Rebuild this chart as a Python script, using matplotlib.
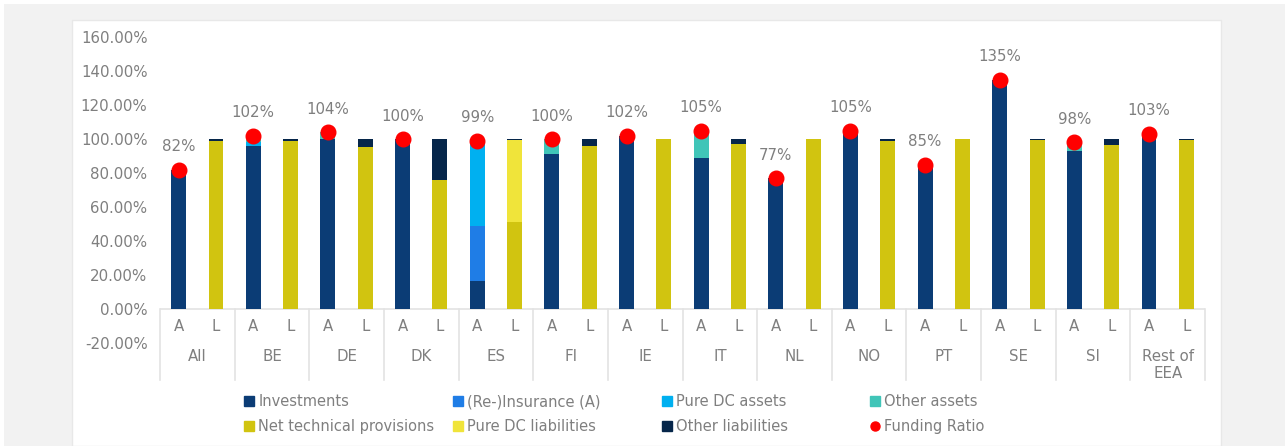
import matplotlib.pyplot as plt
from matplotlib.patches import Rectangle
from matplotlib.lines import Line2D
import numpy as np

countries = ['All', 'BE', 'DE', 'DK', 'ES', 'FI', 'IE', 'IT', 'NL', 'NO', 'PT', 'SE', 'SI', 'Rest of\nEEA']

# assets (A) in % of liabilities
investments = [82, 96, 100, 100, 16.5, 91, 102, 89, 77, 104.5, 85, 135, 93, 101.5]
reinsurance = [0, 0, 0, 0, 32.5, 0, 0, 0, 0, 0, 0, 0, 0, 0]
pure_dc_assets = [0, 2.5, 0, 0, 50, 0, 0, 0, 0, 0, 0, 0, 0, 0]
other_assets = [0, 3.5, 4, 0, 0, 9, 0, 16, 0, 0.5, 0, 0, 5, 1.5]

# liabilities (L)
net_tp = [99, 99, 95.5, 76, 51, 96, 100, 97, 100, 99, 100, 99.5, 96.5, 99.5]
pure_dc_liab = [0, 0, 0, 0, 48.5, 0, 0, 0, 0, 0, 0, 0, 0, 0]
other_liab = [1, 1, 4.5, 24, 0.5, 4, 0, 3, 0, 1, 0, 0.5, 3.5, 0.5]

funding_ratio = [82, 102, 104, 100, 99, 100, 102, 105, 77, 105, 85, 135, 98, 103]

c_inv = '#0b3c75'
c_re = '#1f7de6'
c_dca = '#00b0f0'
c_oa = '#40c5b8'
c_ntp = '#d1c410'
c_dcl = '#f0e43a'
c_ol = '#06264a'
c_fr = '#ff0000'
grey_txt = '#7f7f7f'
line_c = '#e3e3e3'

plt.rcParams['font.family'] = 'DejaVu Sans'
fs = 10.8

W, H = 1285, 446
fig = plt.figure(figsize=(W / 100, H / 100), dpi=100)
fig.patch.set_facecolor('white')
fig.add_artist(Rectangle((4 / W, 0), (W - 4) / W, (H - 4) / H, transform=fig.transFigure,
                         facecolor='#f2f2f2', edgecolor='none', zorder=-20))
fig.add_artist(Rectangle((72 / W, 0), (1221 - 72) / W, (H - 20) / H, transform=fig.transFigure,
                         facecolor='white', edgecolor='#e8e8e8', lw=1, zorder=-19))

ax = fig.add_axes([160 / W, (H - 343) / H, (1205 - 160) / W, (343 - 37) / H])
ax.patch.set_visible(False)

n = len(countries)
xa = np.arange(n) * 2 + 0.5
xl = np.arange(n) * 2 + 1.5
bw = 0.4

b = np.zeros(n)
for vals, col in [(investments, c_inv), (reinsurance, c_re), (pure_dc_assets, c_dca), (other_assets, c_oa)]:
    ax.bar(xa, vals, bw, bottom=b, color=col, zorder=2)
    b += np.array(vals)
b = np.zeros(n)
for vals, col in [(net_tp, c_ntp), (pure_dc_liab, c_dcl), (other_liab, c_ol)]:
    ax.bar(xl, vals, bw, bottom=b, color=col, zorder=2)
    b += np.array(vals)

ax.plot(xa, funding_ratio, 'o', color=c_fr, markersize=10.5, zorder=4)
for x, v in zip(xa, funding_ratio):
    ax.annotate(f'{v}%', (x, v), xytext=(0, 16.5), textcoords='offset points',
                ha='center', va='center', fontsize=fs, color=grey_txt)

ax.set_xlim(0, 2 * n)
ax.set_ylim(-20, 160)
ax.set_yticks(np.arange(-20, 161, 20))
ax.set_yticklabels([f'{t:.2f}%' for t in np.arange(-20, 161, 20)])
ax.tick_params(axis='y', length=0, pad=9, labelsize=fs, labelcolor=grey_txt)
ax.set_xticks([])
for s in ax.spines.values():
    s.set_visible(False)

# category axis boxes
ax.axhline(0, color=line_c, lw=1.2, zorder=1)
for i in range(n + 1):
    ax.plot([2 * i, 2 * i], [0, -42], color=line_c, lw=1.2, clip_on=False, zorder=1)
for i in range(n):
    ax.text(xa[i], -10.5, 'A', ha='center', va='center', fontsize=fs, color=grey_txt)
    ax.text(xl[i], -10.5, 'L', ha='center', va='center', fontsize=fs, color=grey_txt)
    ax.text(2 * i + 1, -23.5, countries[i], ha='center', va='top', fontsize=fs,
            color=grey_txt, linespacing=1.2)

# legend, four equal columns
def sq(c):
    return Line2D([], [], marker='s', ls='none', color=c, markersize=6.5)

cols = [
    [(sq(c_inv), 'Investments'), (sq(c_ntp), 'Net technical provisions')],
    [(sq(c_re), '(Re-)Insurance (A)'), (sq(c_dcl), 'Pure DC liabilities')],
    [(sq(c_dca), 'Pure DC assets'), (sq(c_oa), 'Other liabilities')],
    [(sq(c_oa), 'Other assets'),
     (Line2D([], [], marker='o', ls='none', color=c_fr, markersize=6.5), 'Funding Ratio')],
]
cols[2][1] = (sq(c_ol), 'Other liabilities')
for j, col in enumerate(cols):
    x0 = (245 + j * 208.7) / W
    fig.legend([h for h, _ in col], [t for _, t in col], loc='upper left',
               bbox_to_anchor=(x0, (H - 394.5) / H), frameon=False, fontsize=10.5,
               labelcolor=grey_txt, handlelength=0.6, handletextpad=0.3,
               labelspacing=0.65, borderpad=0, borderaxespad=0)

fig.savefig('out.png', dpi=100)
